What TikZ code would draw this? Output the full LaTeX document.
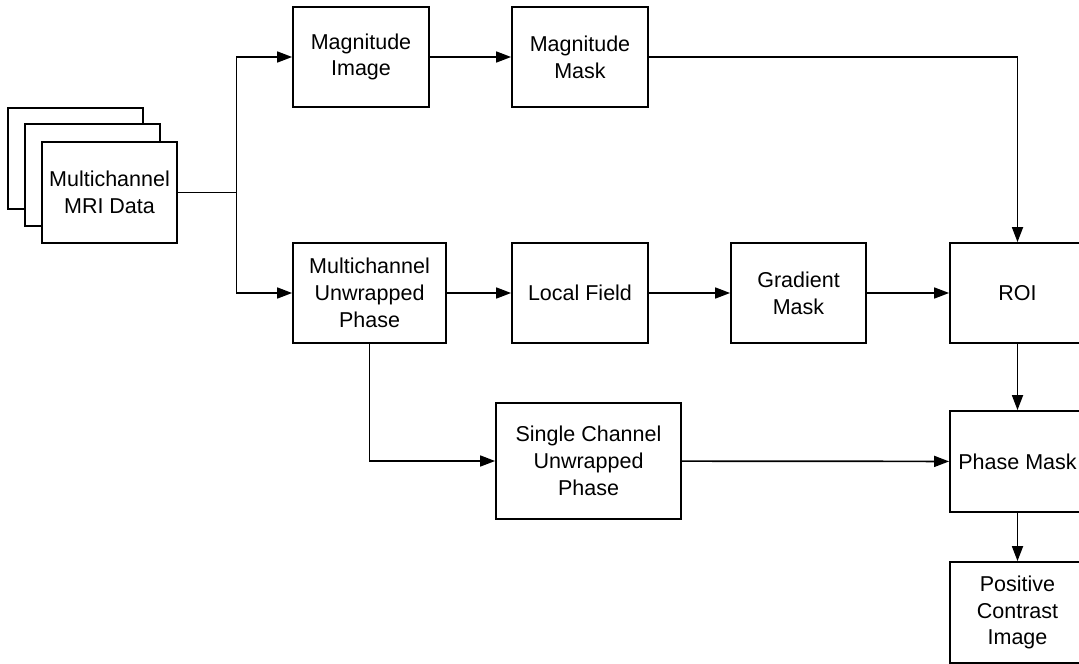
\documentclass[tikz,border=0pt]{standalone}
\usepackage{fontspec}
\setmainfont{Liberation Sans}
\usetikzlibrary{arrows.meta}
\begin{document}
\begin{tikzpicture}[x=1pt,y=-1pt,
  box/.style={draw=black, line width=1.8pt, fill=white, inner sep=0pt, align=center,
    font=\fontsize{21.5}{26.7}\selectfont},
  conn/.style={line width=1.7pt, -{Triangle[length=15pt,width=11pt]}},
  plain/.style={line width=1.7pt}]
\useasboundingbox (0,0) rectangle (1079,664);
\clip (0,0) rectangle (1079,664);
% stacked data boxes
\node[box, minimum width=135pt, minimum height=101pt] (back) at (75.5,158.5) {};
\node[box, minimum width=135pt, minimum height=102pt] (mid) at (92.5,175) {};
\node[box, minimum width=135pt, minimum height=101pt] (data) at (109.5,192.5) {Multichannel\\MRI Data};
% top row
\node[box, minimum width=136pt, minimum height=100pt] (magimg) at (361,57) {Magnitude\\Image};
\node[box, minimum width=136pt, minimum height=100pt] (magmask) at (580,57) {Magnitude\\Mask};
% middle row
\node[box, minimum width=153pt, minimum height=100pt] (mcphase) at (369.5,293) {Multichannel\\Unwrapped\\Phase};
\node[box, minimum width=136pt, minimum height=100pt] (local) at (580,293) {Local Field};
\node[box, minimum width=135pt, minimum height=100pt] (grad) at (798.5,293) {Gradient\\Mask};
\node[box, minimum width=135pt, minimum height=100pt] (roi) at (1017.5,293) {ROI};
% lower rows
\node[box, minimum width=185pt, minimum height=116pt] (single) at (588.5,461) {Single Channel\\Unwrapped\\Phase};
\node[box, minimum width=135pt, minimum height=101pt] (phasemask) at (1017.5,461.5) {Phase Mask};
\node[box, minimum width=135pt, minimum height=101pt] (pos) at (1017.5,612.5) {Positive\\Contrast\\Image};
% connectors
\coordinate (split) at ([xshift=58.5pt]data.east);
\draw[plain] (data.east) -- (split);
\draw[conn] (split) |- (magimg.west);
\draw[conn] (split) |- (mcphase.west);
\draw[conn] (magimg) -- (magmask);
\draw[conn] (magmask.east) -| (roi.north);
\draw[conn] (mcphase) -- (local);
\draw[conn] (local) -- (grad);
\draw[conn] (grad) -- (roi);
\draw[conn] (mcphase.south) |- (single.west);
\draw[conn] (single) -- (phasemask);
\draw[conn] (roi) -- (phasemask);
\draw[conn] (phasemask) -- (pos);
\end{tikzpicture}
\end{document}
